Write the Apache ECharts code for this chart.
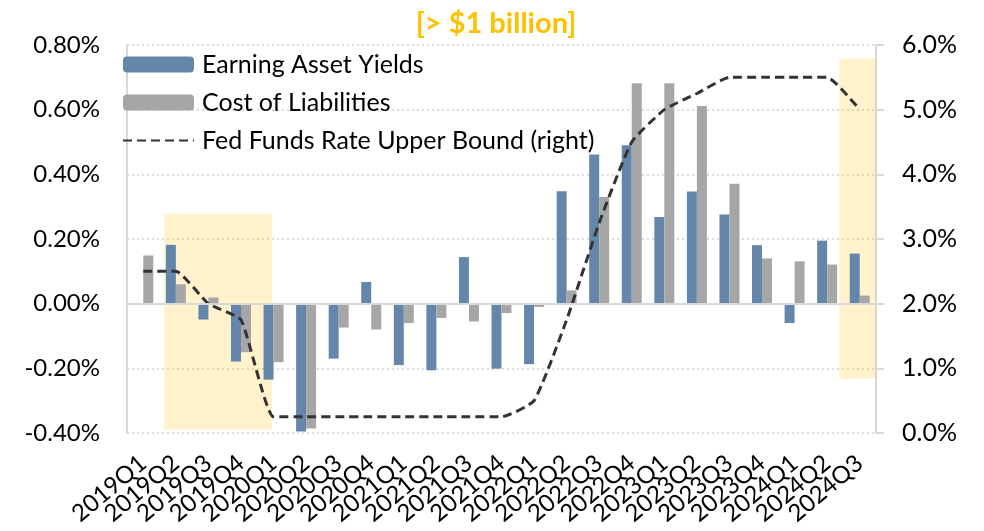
<!DOCTYPE html>
<html>
<head>
<meta charset="utf-8">
<script src="https://cdn.jsdelivr.net/npm/echarts@6/dist/echarts.min.js"></script>
<style>
  html, body { margin: 0; padding: 0; background: #fff; }
  #chart { width: 984px; height: 531px; }
</style>
</head>
<body>
<div id="chart"></div>
<script>
// quarters on the x axis
const quarters = ['2019Q1','2019Q2','2019Q3','2019Q4','2020Q1','2020Q2','2020Q3','2020Q4',
  '2021Q1','2021Q2','2021Q3','2021Q4','2022Q1','2022Q2','2022Q3','2022Q4',
  '2023Q1','2023Q2','2023Q3','2023Q4','2024Q1','2024Q2','2024Q3'];
// % change, left axis
const earningAssetYields = [-0.003, 0.182, -0.049, -0.179, -0.235, -0.395, -0.170, 0.067,
  -0.190, -0.206, 0.144, -0.201, -0.187, 0.348, 0.461, 0.490,
  0.268, 0.347, 0.276, 0.181, -0.060, 0.195, 0.155];
const costOfLiabilities = [0.149, 0.060, 0.019, -0.150, -0.181, -0.386, -0.074, -0.080,
  -0.060, -0.044, -0.055, -0.029, -0.010, 0.041, 0.330, 0.682,
  0.682, 0.611, 0.371, 0.140, 0.131, 0.121, 0.025];
// fed funds upper bound, right axis (%)
const fedFunds = [2.5, 2.5, 2.0, 1.75, 0.25, 0.25, 0.25, 0.25,
  0.25, 0.25, 0.25, 0.25, 0.5, 1.75, 3.25, 4.5,
  5.0, 5.25, 5.5, 5.5, 5.5, 5.5, 5.0];
// highlighted periods: [from, to] in quarter units, [low, high] on left axis
const highlights = [
  { x: [1.14, 4.45], y: [-0.39, 0.278] },
  { x: [21.87, 23], y: [-0.232, 0.758] }
];

const font = 'Lato';
const chart = echarts.init(document.getElementById('chart'));

const option = {
  animation: false,
  title: {
    text: '[> $1 billion]',
    left: 491, top: 4, textAlign: 'center',
    textStyle: { color: '#ffc000', fontFamily: font, fontWeight: 'bold', fontSize: 29 }
  },
  legend: {
    orient: 'vertical', left: 122, top: 52, padding: 0,
    itemWidth: 71, itemHeight: 16, itemGap: 13,
    data: [
      { name: 'Earning Asset Yields' },
      { name: 'Cost of Liabilities' },
      { name: 'Fed Funds Rate Upper Bound (right)', itemStyle: { opacity: 0 } }
    ],
    textStyle: { fontFamily: font, fontSize: 25, color: '#000', padding: [0, 0, 0, 3] }
  },
  grid: { left: 127, right: 108, top: 45, bottom: 98 },
  xAxis: [{
    type: 'category', data: quarters,
    axisLine: { show: false }, axisTick: { show: false },
    axisLabel: { interval: 0, rotate: 40, margin: 27, fontFamily: font, fontSize: 24, color: '#000' }
  }, {
    type: 'value', min: 0, max: quarters.length, show: false
  }],
  yAxis: [{
    type: 'value', min: -0.4, max: 0.8, interval: 0.2,
    axisLine: { show: true, lineStyle: { color: '#d9d9d9', width: 2 } },
    axisTick: { show: false },
    axisLabel: { margin: 27, fontFamily: font, fontSize: 24, color: '#000',
      formatter: v => v.toFixed(2) + '%' },
    splitLine: { lineStyle: { color: '#cfcfcf', type: [2, 3], width: 1.5 } }
  }, {
    type: 'value', min: 0, max: 6, interval: 1,
    axisLine: { show: true, lineStyle: { color: '#d9d9d9', width: 2 } },
    axisTick: { show: true, length: 8, lineStyle: { color: '#d9d9d9', width: 2 } },
    axisLabel: { margin: 26, fontFamily: font, fontSize: 25, color: '#000',
      formatter: v => v.toFixed(1) + '%' },
    splitLine: { show: false }
  }],
  series: [{
    name: 'Earning Asset Yields', type: 'bar', data: earningAssetYields,
    barWidth: 10, barGap: '0%',
    itemStyle: { color: '#6586ab' },
    markLine: {
      silent: true, symbol: 'none', label: { show: false },
      lineStyle: { color: '#d9d9d9', type: 'solid', width: 2 },
      data: [{ yAxis: 0 }]
    }
  }, {
    name: 'Cost of Liabilities', type: 'bar', data: costOfLiabilities,
    barWidth: 10,
    itemStyle: { color: '#a6a6a6' }
  }, {
    name: 'Fed Funds Rate Upper Bound (right)', type: 'line', yAxisIndex: 1, data: fedFunds,
    symbol: 'none', smooth: 0.15, z: 3,
    itemStyle: { color: '#333' },
    lineStyle: { color: '#333', width: 3, type: [9, 5] }
  }, {
    name: 'highlight', type: 'scatter', xAxisIndex: 1, yAxisIndex: 0, data: [],
    z: 10, silent: true,
    markArea: {
      silent: true,
      itemStyle: { color: 'rgba(255,192,0,0.2)' },
      data: highlights.map(h => [{ xAxis: h.x[0], yAxis: h.y[1] }, { xAxis: h.x[1], yAxis: h.y[0] }])
    }
  }]
};

chart.setOption(option);
</script>
</body>
</html>
